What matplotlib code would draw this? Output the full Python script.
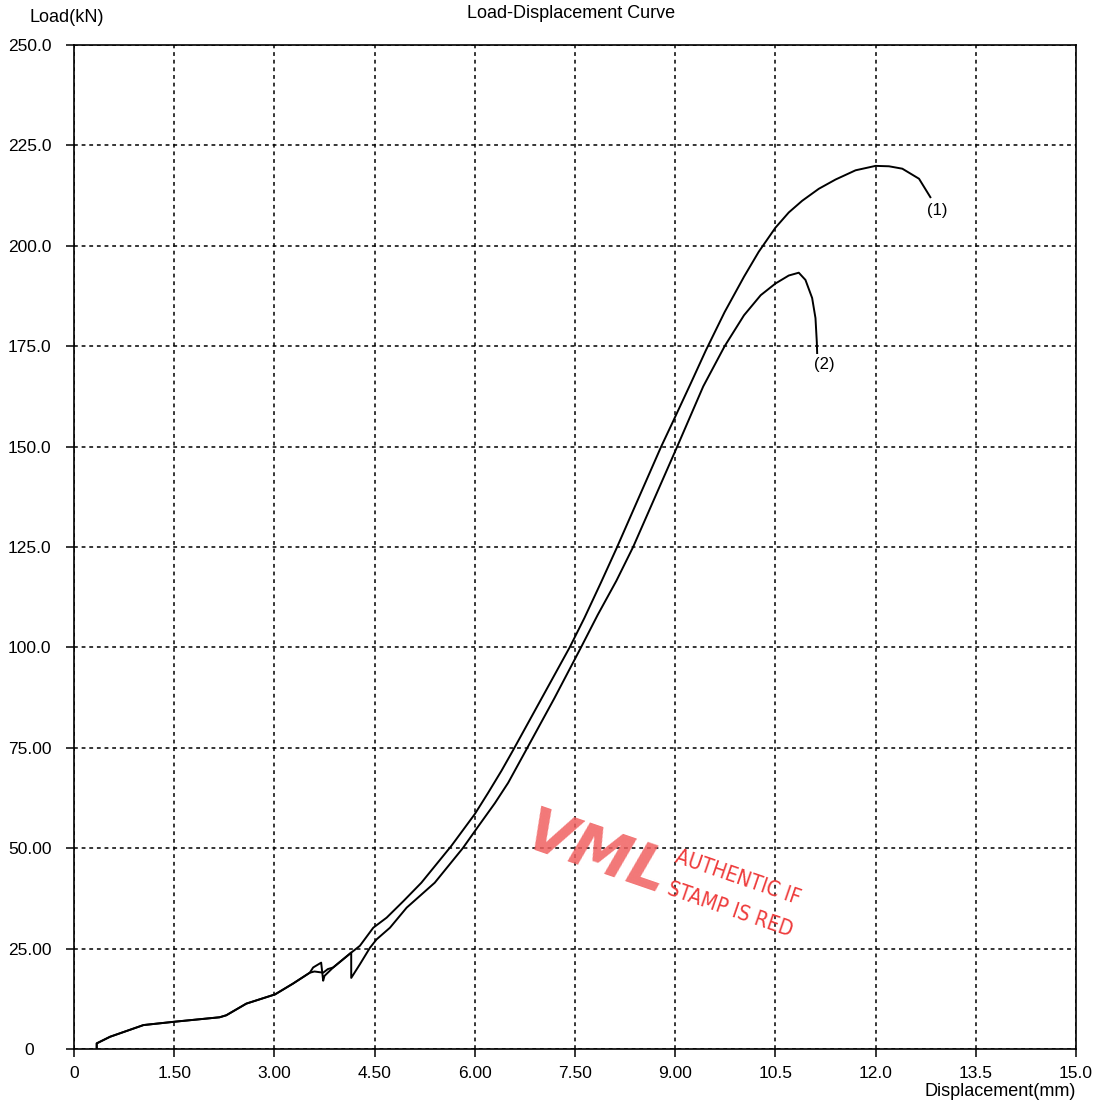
import matplotlib
matplotlib.use("Agg")
import matplotlib.pyplot as plt

plt.rcParams['font.family'] = ['Liberation Sans', 'DejaVu Sans']

# ---- data ----
x1 = [0.34, 0.34, 0.54, 1.04, 1.51, 2.18, 2.28, 2.58, 3.01, 3.28, 3.53, 3.58, 3.70, 3.73, 3.75,
      3.88, 4.15, 4.28, 4.48, 4.68, 4.93, 5.20, 5.65, 6.00, 6.20, 6.40, 6.57, 7.00, 7.42, 7.64,
      7.89, 8.12, 8.79, 8.96, 9.24, 9.46, 9.74, 10.03, 10.25, 10.50, 10.70, 10.90, 11.15, 11.40,
      11.70, 12.00, 12.20, 12.40, 12.65, 12.82]
y1 = [0.2, 1.4, 3.05, 5.96, 6.8, 7.9, 8.4, 11.3, 13.6, 16.3, 19.0, 20.3, 21.5, 17.0, 18.2,
      20.3, 24.0, 25.7, 30.2, 32.7, 36.8, 41.4, 50.6, 58.5, 63.8, 69.3, 74.3, 87.3, 100.0, 107.3,
      116.2, 124.6, 150.0, 156.0, 166.0, 174.0, 183.5, 192.3, 198.5, 204.5, 208.3, 211.2, 214.2, 216.5,
      218.8, 219.9, 219.8, 219.2, 216.7, 212.1]

x2 = [0.34, 0.34, 0.54, 1.04, 1.51, 2.18, 2.28, 2.58, 3.01, 3.28, 3.53, 3.60, 3.73, 3.80, 3.88,
      4.15, 4.15, 4.28, 4.43, 4.53, 4.73, 4.98, 5.40, 5.82, 6.05, 6.30, 6.50, 6.77, 7.19, 7.59,
      7.84, 8.12, 8.37, 9.03, 9.42, 9.74, 10.03, 10.28, 10.50, 10.70, 10.85, 10.95, 11.05,
      11.10, 11.12, 11.125]
y2 = [0.2, 1.4, 3.05, 5.96, 6.8, 7.9, 8.4, 11.3, 13.6, 16.3, 19.0, 19.3, 19.0, 19.9, 20.3,
      24.0, 17.7, 21.1, 25.2, 27.3, 30.2, 35.2, 41.4, 50.0, 55.4, 61.2, 66.3, 74.5, 87.3, 100.0,
      108.1, 116.6, 125.0, 150.0, 165.0, 175.0, 182.7, 187.7, 190.6, 192.6, 193.3, 191.5, 187.0,
      182.0, 176.0, 173.3]

curve_labels = ["(1)", "(2)"]
label_pos = [(12.92, 208.8), (11.23, 170.4)]

x_ticks = [0, 1.5, 3.0, 4.5, 6.0, 7.5, 9.0, 10.5, 12.0, 13.5, 15.0]
x_tick_labels = ["0", "1.50", "3.00", "4.50", "6.00", "7.50", "9.00", "10.5", "12.0", "13.5", "15.0"]
y_ticks = [0, 25, 50, 75, 100, 125, 150, 175, 200, 225, 250]
y_tick_labels = ["0", "25.00", "50.00", "75.00", "100.0", "125.0", "150.0", "175.0", "200.0", "225.0", "250.0"]

W, H = 1096, 1107
fig = plt.figure(figsize=(W / 100, H / 100), dpi=100)
ax = fig.add_axes([74 / W, 1 - 1049 / H, (1076 - 74) / W, (1049 - 45) / H])

ax.plot(x1, y1, color='black', lw=1.4, zorder=3)
ax.plot(x2, y2, color='black', lw=1.4, zorder=3)
for lab, (lx, ly) in zip(curve_labels, label_pos):
    ax.text(lx, ly, lab, fontsize=12, ha='center', va='center', zorder=4)

ax.set_xlim(0, 15)
ax.set_ylim(0, 250)
ax.set_xticks(x_ticks)
ax.set_xticklabels(x_tick_labels, fontsize=12.5)
ax.set_yticks(y_ticks)
ax.set_yticklabels(y_tick_labels, fontsize=12.5, ha='center')
ax.tick_params(axis='y', direction='out', length=6, width=1.1, pad=26)
ax.tick_params(axis='x', direction='out', length=6, width=1.1, pad=6)
ax.grid(True, color='black', linestyle=(0, (2.5, 2.5)), linewidth=1.1, zorder=1)
for s in ax.spines.values():
    s.set_linewidth(1.2)
    s.set_color('black')

def fx(px):
    return px / W

def fy(py):
    return 1 - py / H

fig.text(fx(67), fy(17), "Load(kN)", fontsize=13, ha='center', va='center')
fig.text(fx(571), fy(14), "Load-Displacement Curve", fontsize=13, ha='center', va='center')
fig.text(fx(1076), fy(1092), "Displacement(mm)", fontsize=13, ha='right', va='center')

# red stamp
red = '#ee3b3b'
fig.text(fx(596), fy(855), "VML", fontsize=44, fontweight='bold', fontstyle='italic',
         color='#f06060', alpha=0.85, rotation=-19, ha='center', va='center',
         family='DejaVu Sans', zorder=5)
fig.text(fx(738), fy(878), "AUTHENTIC IF", fontsize=15, color=red, rotation=-19,
         ha='center', va='center', family='DejaVu Sans', fontstretch='condensed', zorder=5)
fig.text(fx(730), fy(910), "STAMP IS RED", fontsize=15, color=red, rotation=-19,
         ha='center', va='center', family='DejaVu Sans', fontstretch='condensed', zorder=5)

fig.savefig("out.png", dpi=100)
